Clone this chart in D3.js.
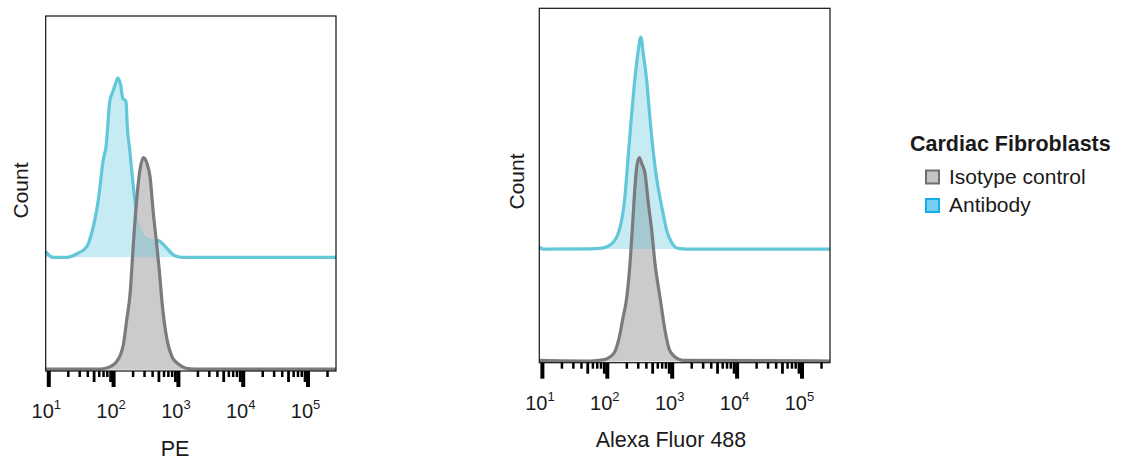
<!DOCTYPE html>
<html>
<head>
<meta charset="utf-8">
<script src="https://cdn.jsdelivr.net/npm/d3@7"></script>
<style>
  body { margin: 0; background: #fff; }
  svg { font-family: "Liberation Sans", Arial, sans-serif; }
</style>
</head>
<body>
<div id="chart"></div>
<script>
// [intensity, count]
const peIsotype = [[9.1,0.3],[62.8,0.3],[79.6,0.8],[113.8,3.9],[143.9,11.8],[162.2,23.6],[182.4,35.4],
  [205.1,59],[231.2,80.2],[260,94.3],[294.4,100],[330.4,97.6],[371.5,91],[416.9,74],[471,59],[520,45.8],
  [578,29.7],[679,14.2],[811,6.1],[1005,2.8],[1334,0.7],[1837,0.3],[275000,0.3]];
const peAntibody = [[9.1,2.7],[11.8,0],[19.5,0],[27.7,1.7],[39.5,5.2],[46.8,11.6],[59.2,27.2],[70.6,46.1],
  [77.8,52.3],[89.5,74.4],[97.3,77.5],[109.6,82.2],[117.8,84.6],[130.9,81.4],[140.6,75.2],[158.1,73.6],
  [165.6,61.8],[182.4,49.4],[205.1,33.5],[231.2,21.1],[276.1,13],[349.1,9.1],[443.6,8.3],[529.7,7.5],
  [671.4,4.4],[849.2,1.2],[1146,0],[275000,0]];
const afIsotype = [[9.1,0.5],[55,0.2],[87,0.7],[126,3.5],[154,10.8],[177,20.3],[203,30.2],[228,46.2],
  [251,65.6],[272,82.5],[290,92],[317,96.2],[345,93.4],[388,88.7],[437,74.5],[492,61.8],[553,46.2],
  [661,30.2],[789,14.6],[908,6.1],[1059,2.8],[1493,0.5],[275000,0.2]];
const afAntibody = [[9.1,0.9],[10.5,0],[55.1,0.1],[78.5,0.3],[119,2.5],[160,10.2],[191,25.3],[214,44.2],
  [242,64],[262,75.8],[289,88],[308,94.6],[334,100],[365,92.3],[412,79.5],[463,61.6],[521,45.6],
  [587,33.3],[673,22.9],[748,15.9],[837,8.8],[1000,3.1],[1265,0.3],[1702,0],[275000,0]];

const majorTicks = [10, 100, 1000, 10000, 100000];
const tickExponents = ["1", "2", "3", "4", "5"];
const legendTitle = "Cardiac Fibroblasts";
const legendLabels = ["Isotype control", "Antibody"];
const xTitles = ["PE", "Alexa Fluor 488"];

const width = 1122, height = 465;
const xDomain = [9.12, 275000];
const yMax = 167;
const offset = 53; // staggered overlay of the antibody trace

const cyanLine = "#64c8d9", cyanFill = "rgba(88,196,216,0.34)";
const greyLine = "#7b7b7e", greyFill = "#cbcbcd";

const svg = d3.select("#chart").append("svg")
  .attr("width", width).attr("height", height);

const panels = [
  {x: 45.7, y: 16, w: 290.3, h: 355, iso: peIsotype, ab: peAntibody, title: xTitles[0],
   titleX: 175, titleY: 456, countX: 28, countY: 190.5, labelY: 418},
  {x: 539.3, y: 8.3, w: 290.7, h: 354.4, iso: afIsotype, ab: afAntibody, title: xTitles[1],
   titleX: 671, titleY: 446.5, countX: 524, countY: 181.5, labelY: 410}
];

let minorTicks = [], midTicks = [];
majorTicks.forEach(d => {
  for (let k = 2; k <= 9; k++) {
    const v = k * d;
    if (v > xDomain[1]) continue;
    if (k === 5 || k === 9) midTicks.push(v); else minorTicks.push(v);
  }
});

panels.forEach(p => {
  const x = d3.scaleLog().domain(xDomain).range([p.x, p.x + p.w]);
  const base = p.y + p.h - 1.3;
  const y = d3.scaleLinear().domain([0, yMax]).range([base, base - 354]);

  const g = svg.append("g");

  const area = off => d3.area().x(d => x(d[0])).y0(y(off)).y1(d => y(d[1] + off)).curve(d3.curveMonotoneX);
  const line = off => d3.line().x(d => x(d[0])).y(d => y(d[1] + off)).curve(d3.curveMonotoneX);

  g.append("path").datum(p.ab).attr("d", line(offset))
    .attr("fill", "none").attr("stroke", cyanLine).attr("stroke-width", 3.2).attr("stroke-linejoin", "round");
  g.append("path").datum(p.iso).attr("d", area(0)).attr("fill", greyFill);
  g.append("path").datum(p.ab).attr("d", area(offset)).attr("fill", cyanFill);
  g.append("path").datum(p.iso).attr("d", line(0))
    .attr("fill", "none").attr("stroke", greyLine).attr("stroke-width", 3.2).attr("stroke-linejoin", "round");

  g.append("rect").attr("x", p.x).attr("y", p.y).attr("width", p.w).attr("height", p.h)
    .attr("fill", "none").attr("stroke", "#111").attr("stroke-width", 1.2);

  const axisY = p.y + p.h;
  const addTicks = (vals, size, sw) => {
    svg.append("g").attr("transform", `translate(0,${axisY})`)
      .call(d3.axisBottom(x).tickValues(vals).tickSize(size).tickFormat(""))
      .call(a => a.select(".domain").remove())
      .call(a => a.selectAll("line").attr("stroke", "#000").attr("stroke-width", sw));
  };
  addTicks(minorTicks, 6, 2.5);
  addTicks(midTicks, 11, 2.8);
  addTicks(majorTicks, 16, 4);

  majorTicks.forEach((v, i) => {
    const t = svg.append("text").attr("x", x(v) - 2).attr("y", p.labelY)
      .attr("text-anchor", "middle").attr("fill", "#1a1a1a").style("font-size", "20px");
    t.append("tspan").text("10");
    t.append("tspan").attr("dy", -9).style("font-size", "13px").text(tickExponents[i]);
  });

  svg.append("text").attr("x", p.titleX).attr("y", p.titleY).attr("text-anchor", "middle")
    .attr("fill", "#1a1a1a").style("font-size", "21.5px").text(p.title);
  svg.append("text").attr("transform", `translate(${p.countX},${p.countY}) rotate(-90)`)
    .attr("text-anchor", "middle").attr("fill", "#1a1a1a").style("font-size", "21px").text("Count");
});

// legend
const lg = svg.append("g");
lg.append("text").attr("x", 910).attr("y", 151).attr("fill", "#1a1a1a")
  .style("font-size", "21.5px").style("font-weight", "bold").text(legendTitle);
const swatch = [{fill: "#c4c4c6", stroke: "#6e6e70"}, {fill: "#74cef0", stroke: "#14aee8"}];
legendLabels.forEach((t, i) => {
  const cy = 177 + i * 28.5;
  lg.append("rect").attr("x", 926).attr("y", cy - 6.5).attr("width", 13).attr("height", 13)
    .attr("fill", swatch[i].fill).attr("stroke", swatch[i].stroke).attr("stroke-width", 2);
  lg.append("text").attr("x", 949).attr("y", cy + 6.5).attr("fill", "#1a1a1a")
    .style("font-size", "21px").text(t);
});
</script>
</body>
</html>
